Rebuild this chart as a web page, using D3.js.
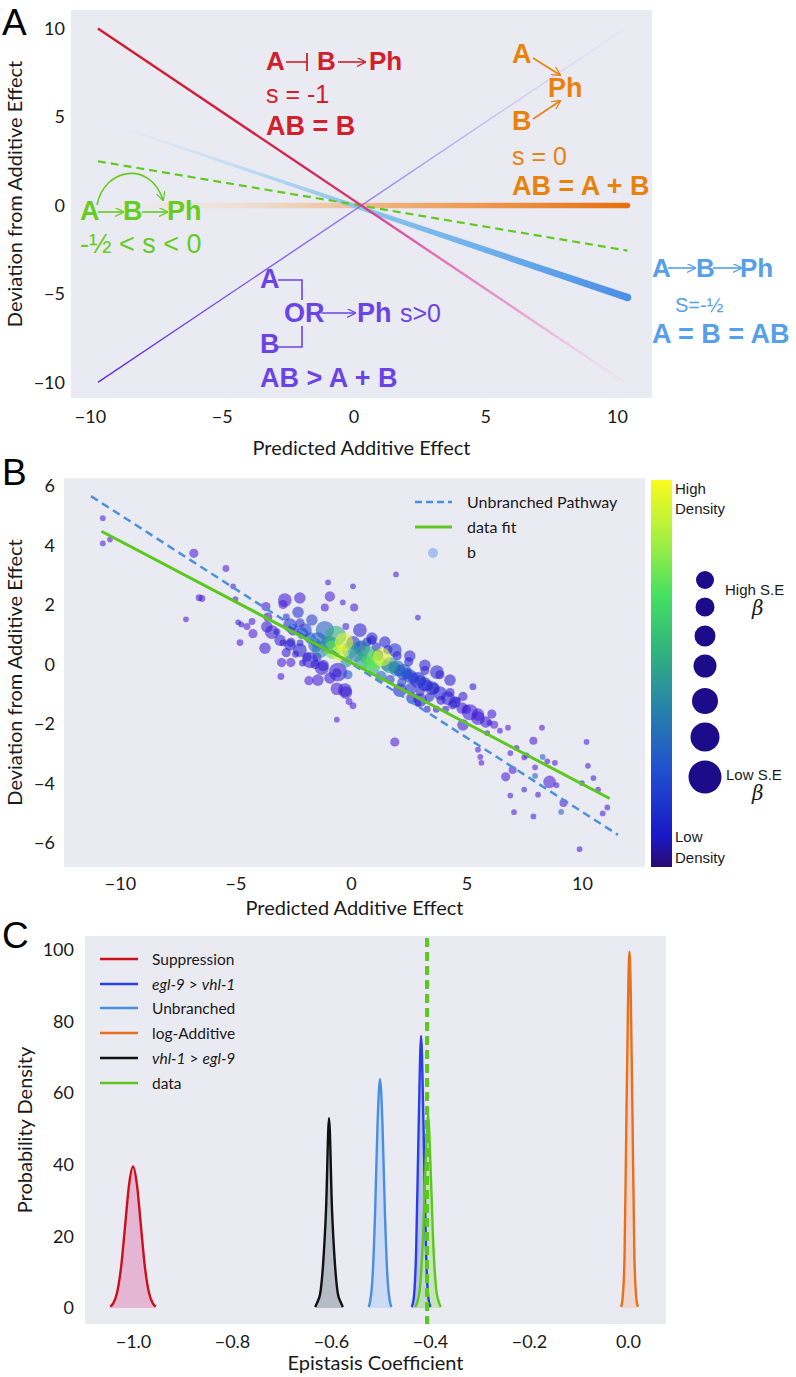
<!DOCTYPE html>
<html><head><meta charset="utf-8">
<script src="https://cdn.jsdelivr.net/npm/d3@7"></script>
<style>
body{margin:0;background:#fff}
svg{display:block}
</style>
</head><body>
<svg id="c" width="796" height="1377"></svg>
<script>
// ================= DATA =================
// Panel A
const aXTicks = [-10, -5, 0, 5, 10];
const aYTicks = [-10, -5, 0, 5, 10];
const suppX = [-9.7, 10.3], suppY = [10.0, -10.0];      // s = -1
const synX  = [-9.7, 10.3], synY  = [-10.0, 10.0];      // s > 0
const unbrX = [-9.7, 10.4], unbrY = [4.85, -5.2];       // s = -1/2
const addX  = [-9.7, 10.4], addY  = [0, 0];             // s = 0
const fitAX = [-9.7, 10.4], fitAY = [2.5, -2.55];       // -1/2 < s < 0

// Panel B
const bXTicks = [-10, -5, 0, 5, 10];
const bYTicks = [-6, -4, -2, 0, 2, 4, 6];
const unbrBX = [-11.25, 11.56], unbrBY = [5.66, -5.72];
const fitBX  = [-10.8, 11.2],   fitBY  = [4.48, -4.5];
// points: [predicted additive, deviation, S.E. size class (px radius), density 0..1]
const bPoints = [
 [-10.74,4.92,2.5,0],[-10.74,4.07,2.5,0],[-10.43,4.2,2.5,0],
 [-6.8,3.74,4,0],[-5.41,3.23,3,0],[-6.57,2.25,3,0],[-6.45,2.22,3,0],
 [-7.14,1.52,2.5,0],[-5.1,2.63,2.5,0],[-5.0,2.2,2.5,0],[-4.88,1.42,2.5,0.05],[-4.75,1.35,2.5,0.05],
 [-4.8,0.74,3,0],[-4.5,1.28,3,0],[-4.24,1.04,4,0],[-4.28,1.45,3,0],
 [-3.68,1.95,4,0],[-3.6,1.6,4,0],[-3.64,1.27,5,0.05],[-3.2,1.1,3,0.1],[-2.94,2.02,4,0],[-2.8,1.6,3,0.15],
 [-0.99,2.76,2.5,0],[-0.91,2.29,4.5,0],[-1.13,1.92,3.5,0],[0.09,2.63,2.5,0],[-0.35,2.09,2.5,0],
 [0.14,1.92,3.5,0],[-0.22,1.28,3,0],[1.95,3.03,2.5,0],[2.9,1.58,2.5,0],
 [-3.0,0.07,4,0],[-2.6,0.07,4,0],[-3.03,-0.4,3,0],[-1.82,-0.54,4,0],[-2.1,0.05,3,0.05],
 [-1.55,0.0,4,0.05],[-1.2,-0.03,5,0.05],[-0.61,-0.28,4,0.05],[-0.13,-0.34,4,0.25],
 [-0.61,-0.81,5.5,0],[-0.22,-0.94,5.5,0],[-0.08,-1.24,3,0],[0.09,-1.38,3,0],[-0.61,-1.85,2.5,0],[1.9,-2.6,4,0],
 [3.85,-0.34,4,0.1],[5.28,-0.74,3,0.1],[4.29,-0.94,4,0.05],[4.85,-1.07,4,0.05],[4.4,-1.35,4,0.05],
 [5.0,-1.5,4,0],[5.5,-1.68,5.5,0],[6.0,-1.95,2.5,0],[6.2,-2.02,3.5,0],[6.45,-2.22,2.5,0],[6.8,-2.12,2.5,0],
 [5.9,-2.3,2.5,0],[8.27,-2.12,2.5,0],[7.9,-2.56,3.5,0],[7.17,-2.8,2.5,0],[5.5,-2.86,2.5,0],[5.6,-3.1,2.5,0],
 [5.65,-3.3,2.5,0],[6.9,-2.97,2.5,0],[7.5,-3.12,2.5,0],[7.6,-3.05,2.5,0],[8.3,-3.1,2.5,0.3],[8.5,-3.25,2.5,0],
 [8.83,-3.3,2.5,0],[7.97,-3.45,2.5,0],[7.0,-3.54,3.5,0],[6.7,-3.77,4,0],[7.97,-3.74,2.5,0.3],[8.6,-3.94,5.5,0],
 [8.9,-4.05,2.5,0],[7.5,-4.2,2.5,0],[6.9,-4.4,2.5,0],[8.1,-4.37,2.5,0],[10.2,-2.6,2.5,0],[10.26,-3.4,2.5,0],
 [10.5,-3.81,2.5,0],[10.0,-3.98,2.5,0],[10.7,-4.2,2.5,0],[9.2,-4.65,3.5,0],[9.1,-4.95,2.5,0.3],
 [11.1,-4.8,2.5,0],[10.9,-5.0,2.5,0],[7.06,-4.96,2.5,0],[7.9,-5.1,2.5,0],[9.9,-6.2,2.5,0],
 [-2.5,1.17,5,0.1],[-2.1,1.05,5,0.2],[-2.2,1.4,4,0.15],[-2.94,0.73,3,0.05],[-2.6,0.75,4,0.1],[-2.8,0.4,4,0.05],
 [-2.2,0.73,3,0.15],[-1.77,0.9,5,0.3],[-1.55,0.65,6,0.3],[-1.33,0.5,7,0.4],[-1.0,0.73,6,0.45],
 [-0.78,0.5,8,0.75],[-0.48,0.4,7,0.95],[-0.2,0.1,5,0.45],[-1.47,0.25,4,0.1],[-1.9,0.25,4,0.1],[-2.4,0.35,3,0.05],
 [0.1,0.73,6,0.15],[0.4,0.6,5,0.15],[0.7,0.76,4,0.1],[0.9,0.82,4,0.1],[1.1,0.6,4,0.15],[1.15,0.32,5,0.2],
 [0.5,0.1,7,0.5],[0.8,0.05,6,0.7],[1.0,-0.1,5,0.55],[1.55,-0.03,5,0.35],[1.9,-0.1,5,0.25],[2.1,-0.2,5,0.2],
 [2.4,-0.3,5,0.2],[2.7,-0.45,5,0.15],[3.0,-0.55,5,0.15],[3.3,-0.7,5,0.12],[3.6,-0.8,5,0.1],[2.2,-0.6,4,0.2],
 [2.6,-0.8,5,0.15],[3.0,-0.9,4,0.1],[3.4,-1.1,4,0.1],[1.7,-0.5,4,0.2],[1.3,-0.4,5,0.3],[2.0,0.3,4,0.1],
 [2.5,0.1,4,0.1],[3.2,-0.2,4,0.1],[1.6,0.5,4,0.1],[3.9,-1.2,4,0.05],[4.1,-1.5,3,0.05],[3.7,-1.5,3,0.05],
 [4.6,-1.2,3,0.05],[2.9,-1.3,3,0.05],[3.3,-1.5,3,0.05],
 [-2.64,1.33,6,0.15],[-2.29,1.76,5,0.15],[-1.99,1.16,6,0.2],[-1.69,1.5,5,0.2],[-1.43,0.82,7,0.3],
 [-1.13,1.16,8,0.3],[-0.91,0.66,8,0.45],[-0.65,0.96,9,0.55],[-0.3,0.76,8,0.95],[-0.04,0.49,7,0.5],
 [0.22,0.32,6,0.4],[0.48,0.55,7,0.4],[0.74,0.32,8,0.55],[1.04,0.15,8,0.75],[1.34,0.25,8,0.95],
 [1.69,-0.02,7,0.5],[1.99,-0.12,7,0.35],[2.29,-0.25,7,0.25],[2.55,-0.39,6,0.2],[2.9,-0.52,7,0.15],
 [3.2,-0.66,6,0.15],[3.51,-0.79,6,0.12],[3.85,-0.96,6,0.1],[4.2,-1.13,6,0.1],[4.5,-1.26,5,0.08],
 [4.81,-1.46,5,0.05],[2.12,-0.86,6,0.1],[2.64,-1.13,5,0.1],[2.99,-1.19,6,0.1],[1.9,0.49,6,0.15],
 [2.55,0.29,5,0.1],[3.2,-0.02,5,0.1],[3.72,-0.25,6,0.1],[4.29,-0.52,5,0.08],[0.39,1.16,6,0.1],
 [0.91,0.89,5,0.1],[1.47,0.76,5,0.1],[-1.77,0.15,7,0.05],[-1.26,-0.12,6,0.05],[-0.91,-0.45,5,0.05],
 [-0.56,-0.25,8,0.05],[-0.26,-0.86,6,0.05],[-1.43,-0.52,5,0.03],[-2.21,0.49,6,0.08],[-2.64,0.66,5,0.08],
 [-3.07,0.82,5,0.05],[-3.42,1.09,6,0.03],[-2.86,2.17,6,0.03],[-2.21,2.24,5,0.03],[-3.72,0.55,5,0.03],
 [5.15,-1.6,7,0.03],[5.5,-1.8,6,0.03],[5.84,-1.93,5,0.03],[6.1,-1.66,4,0.03],[4.85,-2.03,5,0.03]
];

// Panel C
const cXTicks = [-1.0, -0.8, -0.6, -0.4, -0.2, 0.0];
const cYTicks = [0, 20, 40, 60, 80, 100];
const cNames = ["Suppression", "egl-9 > vhl-1", "Unbranched", "log-Additive", "vhl-1 > egl-9", "data"];
const suppCX = [-1.046,-1.04,-1.032,-1.024,-1.016,-1.008,-1.0,-0.992,-0.984,-0.976,-0.968,-0.96,-0.954];
const suppCY = [0.4,1.3,4.4,11.5,22.9,34.4,39.5,34.4,22.9,11.5,4.4,1.3,0.4];
const eglCX  = [-0.437,-0.433,-0.428,-0.423,-0.418,-0.413,-0.408,-0.403,-0.399];
const eglCY  = [0.3,2.5,16,50,76,50,16,2.5,0.3];
const unbrCX = [-0.524,-0.521,-0.516,-0.511,-0.506,-0.501,-0.496,-0.491,-0.486,-0.481,-0.478];
const unbrCY = [0.3,1.8,8.7,26.3,51.3,64,51.3,26.3,8.7,1.8,0.3];
const addCX  = [-0.014,-0.011,-0.007,-0.003,0.003,0.009,0.013,0.017,0.020];
const addCY  = [0.3,2.5,14,55,99.5,55,14,2.5,0.3];
const vhlCX  = [-0.632,-0.628,-0.622,-0.616,-0.610,-0.604,-0.598,-0.592,-0.586,-0.580,-0.576];
const vhlCY  = [0.3,1.5,3.9,12.2,27.6,53,27.6,12.2,3.9,1.5,0.3];
const dataCX = [-0.43,-0.426,-0.42,-0.414,-0.409,-0.404,-0.399,-0.394,-0.388,-0.382,-0.378];
const dataCY = [0.3,1.5,6,20,40,54,40,20,6,1.5,0.3];
const dataMean = -0.406;

// ================= DRAW =================
const svg = d3.select('#c');
const BG = '#eaeaf2';
const TF = "Lato, 'Open Sans', sans-serif";
const HF = "'Liberation Sans', Arial, Helvetica, sans-serif";
const defs = svg.append('defs');

function axes(g, x, y, xt, yt, fmt, bot, left, padX, padY) {
  const ax = g.append('g').attr('transform', `translate(0,${bot})`)
    .call(d3.axisBottom(x).tickValues(xt).tickSize(0).tickPadding(padX).tickFormat(fmt));
  const ay = g.append('g').attr('transform', `translate(${left},0)`)
    .call(d3.axisLeft(y).tickValues(yt).tickSize(0).tickPadding(padY).tickFormat(d3.format('d')));
  [ax, ay].forEach(a => {
    a.select('.domain').remove();
    a.selectAll('text').attr('font-family', TF).attr('font-size', 18).attr('fill', '#1a1a1a');
  });
}
function grad(id, x1, y1, x2, y2, stops) {
  const gr = defs.append('linearGradient').attr('id', id).attr('gradientUnits', 'userSpaceOnUse')
    .attr('x1', x1).attr('y1', y1).attr('x2', x2).attr('y2', y2);
  stops.forEach(s => gr.append('stop').attr('offset', s[0]).attr('stop-color', s[1]).attr('stop-opacity', s[2]));
}
function marker(id, color) {
  defs.append('marker').attr('id', id).attr('viewBox', '0 0 10 10').attr('refX', 9).attr('refY', 5)
    .attr('markerWidth', 9).attr('markerHeight', 9).attr('markerUnits', 'userSpaceOnUse').attr('orient', 'auto')
    .append('path').attr('d', 'M0,0 L10,5 L0,10').attr('fill', 'none').attr('stroke', color).attr('stroke-width', 1.4);
}
function label(t, x, y, txt, size, color, weight, fam) {
  return t.append('text').attr('x', x).attr('y', y).text(txt).attr('font-size', size)
    .attr('fill', color).attr('font-weight', weight || 'normal').attr('font-family', fam || HF);
}
function arrow(g, x1, y1, x2, y2, color, id) {
  g.append('line').attr('x1', x1).attr('y1', y1).attr('x2', x2).attr('y2', y2)
    .attr('stroke', color).attr('stroke-width', 1.6).attr('marker-end', `url(#${id})`);
}

// Panel letters
label(svg, 2, 35, 'A', 37, '#000');
label(svg, 2, 485, 'B', 37, '#000');
label(svg, 2, 948, 'C', 37, '#000');

// ---------- Panel A ----------
{
  const L = 71, R = 652, T = 10, B = 398;
  const x = d3.scaleLinear().domain([-10.72, 11.33]).range([L, R]);
  const y = d3.scaleLinear().domain([-10.88, 11.05]).range([B, T]);
  const g = svg.append('g');
  g.append('rect').attr('x', L).attr('y', T).attr('width', R - L).attr('height', B - T).attr('fill', BG);
  axes(g, x, y, aXTicks, aYTicks, d3.format('d'), B, L, 12, 6);
  g.append('text').attr('x', (L + R) / 2).attr('y', 455).attr('text-anchor', 'middle').attr('font-family', TF)
    .attr('font-size', 20).attr('fill', '#1a1a1a').text('Predicted Additive Effect');
  g.append('text').attr('transform', `translate(22,${(T + B) / 2 - 10}) rotate(-90)`).attr('text-anchor', 'middle')
    .attr('font-family', TF).attr('font-size', 20).attr('fill', '#1a1a1a').text('Deviation from Additive Effect');

  // orange additive (thick, fading in)
  grad('gAdd', x(addX[0]), y(addY[0]), x(addX[1]), y(addY[1]),
    [[0, '#f6dcc8', 0], [0.22, '#f4d4b8', 0.35], [0.55, '#eeae74', 0.95], [1, '#e8700c', 1]]);
  g.append('line').attr('x1', x(addX[0])).attr('y1', y(addY[0])).attr('x2', x(addX[1])).attr('y2', y(addY[1]))
    .attr('stroke', 'url(#gAdd)').attr('stroke-width', 5.5).attr('stroke-linecap', 'round');

  // blue unbranched (widening band)
  {
    const x0 = x(unbrX[0]), y0 = y(unbrY[0]), x1 = x(unbrX[1]), y1 = y(unbrY[1]);
    const dx = x1 - x0, dy = y1 - y0, len = Math.hypot(dx, dy), nx = -dy / len, ny = dx / len;
    const w0 = 1.5, w1 = 7.5;
    grad('gUnbr', x0, y0, x1, y1, [[0, '#d6e8f6', 0], [0.15, '#c4e0f4', 0.55], [0.45, '#92c8ee', 1], [0.75, '#6aaeea', 1], [1, '#4a8fe6', 1]]);
    g.append('path').attr('d', `M${x0 + nx * w0 / 2},${y0 + ny * w0 / 2}L${x1 + nx * w1 / 2},${y1 + ny * w1 / 2}L${x1 - nx * w1 / 2},${y1 - ny * w1 / 2}L${x0 - nx * w0 / 2},${y0 - ny * w0 / 2}Z`)
      .attr('fill', 'url(#gUnbr)');
    g.append('circle').attr('cx', x1).attr('cy', y1).attr('r', w1 / 2).attr('fill', '#4a8fe6');
  }
  // green dashed
  g.append('line').attr('x1', x(fitAX[0])).attr('y1', y(fitAY[0])).attr('x2', x(fitAX[1])).attr('y2', y(fitAY[1]))
    .attr('stroke', '#62c922').attr('stroke-width', 2.2).attr('stroke-dasharray', '8,5');
  // purple synthetic
  grad('gSyn', x(synX[0]), y(synY[0]), x(synX[1]), y(synY[1]),
    [[0, '#5a2ee0', 1], [0.5, '#8466ea', 0.85], [1, '#d0c4f2', 0.15]]);
  g.append('line').attr('x1', x(synX[0])).attr('y1', y(synY[0])).attr('x2', x(synX[1])).attr('y2', y(synY[1]))
    .attr('stroke', 'url(#gSyn)').attr('stroke-width', 1.4);
  // red suppression
  grad('gSupp', x(suppX[0]), y(suppY[0]), x(suppX[1]), y(suppY[1]),
    [[0, '#d41a28', 1], [0.4, '#d42450', 1], [0.55, '#d8449a', 0.95], [0.8, '#e274bc', 0.6], [1, '#f2b8dc', 0.1]]);
  g.append('line').attr('x1', x(suppX[0])).attr('y1', y(suppY[0])).attr('x2', x(suppX[1])).attr('y2', y(suppY[1]))
    .attr('stroke', 'url(#gSupp)').attr('stroke-width', 2.4);

  // annotations
  const red = '#d0202a', org = '#e8820c', grn = '#66cc22', pur = '#6a44e6', blu = '#55a0e8';
  marker('mRed', red); marker('mOrg', org); marker('mGrn', grn); marker('mPur', pur); marker('mBlu', blu);
  // red
  label(g, 266, 70, 'A', 26, red, 'bold');
  g.append('line').attr('x1', 286).attr('y1', 62).attr('x2', 307).attr('y2', 62).attr('stroke', red).attr('stroke-width', 1.6);
  g.append('line').attr('x1', 307).attr('y1', 53).attr('x2', 307).attr('y2', 71).attr('stroke', red).attr('stroke-width', 1.8);
  label(g, 317, 70, 'B', 26, red, 'bold');
  arrow(g, 338, 62, 365, 62, red, 'mRed');
  label(g, 369, 70, 'Ph', 26, red, 'bold');
  label(g, 266, 103, 's = -1', 25, red);
  label(g, 266, 135, 'AB = B', 27, red, 'bold');
  // orange
  label(g, 512, 63, 'A', 27, org, 'bold');
  arrow(g, 533, 58, 560, 75, org, 'mOrg');
  label(g, 548, 97, 'Ph', 27, org, 'bold');
  label(g, 512, 130, 'B', 27, org, 'bold');
  arrow(g, 533, 119, 560, 101, org, 'mOrg');
  label(g, 512, 165, 's = 0', 25, org);
  label(g, 512, 195, 'AB = A + B', 27, org, 'bold');
  // green
  label(g, 80, 220, 'A', 27, grn, 'bold');
  arrow(g, 98, 212, 123, 212, grn, 'mGrn');
  label(g, 123, 220, 'B', 27, grn, 'bold');
  arrow(g, 142, 212, 167, 212, grn, 'mGrn');
  label(g, 167, 220, 'Ph', 27, grn, 'bold');
  g.append('path').attr('d', 'M97,205 C104,168 150,160 163,200').attr('fill', 'none').attr('stroke', grn)
    .attr('stroke-width', 1.6).attr('marker-end', 'url(#mGrn)');
  label(g, 80, 253, '-½ < s < 0', 27, grn);
  // purple
  label(g, 260, 288, 'A', 27, pur, 'bold');
  g.append('path').attr('d', 'M278,280 H302 V300 M302,326 V347 H278').attr('fill', 'none').attr('stroke', pur).attr('stroke-width', 1.6);
  label(g, 284, 322, 'OR', 27, pur, 'bold');
  arrow(g, 322, 313, 355, 313, pur, 'mPur');
  label(g, 357, 322, 'Ph', 27, pur, 'bold');
  label(g, 400, 322, 's>0', 25, pur);
  label(g, 260, 353, 'B', 27, pur, 'bold');
  label(g, 260, 387, 'AB > A + B', 27, pur, 'bold');
  // blue
  label(g, 652, 277, 'A', 26, blu, 'bold');
  arrow(g, 668, 268, 695, 268, blu, 'mBlu');
  label(g, 696, 277, 'B', 26, blu, 'bold');
  arrow(g, 713, 268, 741, 268, blu, 'mBlu');
  label(g, 740, 277, 'Ph', 26, blu, 'bold');
  label(g, 675, 312, 'S=-½', 20, blu);
  label(g, 652, 343, 'A = B = AB', 27, blu, 'bold');
}

// ---------- Panel B ----------
const cmap = d3.scaleLinear()
  .domain([0, 0.08, 0.25, 0.45, 0.55, 0.7, 0.85, 1])
  .range(['#2a0a70', '#1a18c8', '#2050d0', '#2a8fa0', '#30b080', '#44e060', '#a8f040', '#fafa1e']);
const pmap = d3.scaleLinear()
  .domain([0, 0.08, 0.25, 0.45, 0.55, 0.7, 0.85, 1])
  .range(['#4a1cd6', '#2a1ad0', '#2050d0', '#2a8fa0', '#30b080', '#44e060', '#a8f040', '#fafa1e']);
{
  const L = 64, R = 645, T = 478, B = 867;
  const x = d3.scaleLinear().domain([-12.42, 12.73]).range([L, R]);
  const y = d3.scaleLinear().domain([-6.8, 6.27]).range([B, T]);
  const g = svg.append('g');
  g.append('rect').attr('x', L).attr('y', T).attr('width', R - L).attr('height', B - T).attr('fill', BG);
  axes(g, x, y, bXTicks, bYTicks, d3.format('d'), B, L, 10, 9);
  g.append('text').attr('x', (L + R) / 2).attr('y', 915).attr('text-anchor', 'middle').attr('font-family', TF)
    .attr('font-size', 20).attr('fill', '#1a1a1a').text('Predicted Additive Effect');
  g.append('text').attr('transform', `translate(22,${(T + B) / 2}) rotate(-90)`).attr('text-anchor', 'middle')
    .attr('font-family', TF).attr('font-size', 20).attr('fill', '#1a1a1a').text('Deviation from Additive Effect');

  const pts = bPoints.slice().sort((a, b) => a[3] - b[3]);
  g.append('g').selectAll('circle').data(pts).join('circle')
    .attr('cx', d => x(d[0])).attr('cy', d => y(d[1])).attr('r', d => d[2] * 1.15)
    .attr('fill', d => pmap(d[3])).attr('fill-opacity', 0.58);

  g.append('line').attr('x1', x(unbrBX[0])).attr('y1', y(unbrBY[0])).attr('x2', x(unbrBX[1])).attr('y2', y(unbrBY[1]))
    .attr('stroke', '#4a90dc').attr('stroke-width', 2.5).attr('stroke-dasharray', '8,5');
  g.append('line').attr('x1', x(fitBX[0])).attr('y1', y(fitBY[0])).attr('x2', x(fitBX[1])).attr('y2', y(fitBY[1]))
    .attr('stroke', '#5cc81e').attr('stroke-width', 3);

  // legend
  g.append('line').attr('x1', 415).attr('x2', 452).attr('y1', 502).attr('y2', 502).attr('stroke', '#4a90dc')
    .attr('stroke-width', 2.5).attr('stroke-dasharray', '7,4');
  g.append('line').attr('x1', 415).attr('x2', 452).attr('y1', 527).attr('y2', 527).attr('stroke', '#5cc81e').attr('stroke-width', 3);
  g.append('circle').attr('cx', 433).attr('cy', 553).attr('r', 5).attr('fill', '#a9bff0');
  label(g, 467, 508, 'Unbranched Pathway', 16, '#1a1a1a', 'normal', TF);
  label(g, 467, 533, 'data fit', 16, '#1a1a1a', 'normal', TF);
  label(g, 467, 558, 'b', 16, '#1a1a1a', 'normal', TF);

  // colorbar
  const cg = defs.append('linearGradient').attr('id', 'cbar').attr('x1', 0).attr('y1', 1).attr('x2', 0).attr('y2', 0);
  cmap.domain().forEach((d, i) => cg.append('stop').attr('offset', d).attr('stop-color', cmap.range()[i]));
  g.append('rect').attr('x', 651).attr('y', 480).attr('width', 21).attr('height', 387).attr('fill', 'url(#cbar)');
  label(g, 675, 494, 'High', 15, '#1a1a1a');
  label(g, 675, 514, 'Density', 15, '#1a1a1a');
  label(g, 675, 842, 'Low', 15, '#1a1a1a');
  label(g, 675, 863, 'Density', 15, '#1a1a1a');

  // S.E. size legend
  const legR = [9, 9.5, 10.5, 11.5, 13, 14.5, 16.5];
  const legY = [580, 607, 636, 666, 701, 737, 777];
  g.selectAll('.se').data(legR).join('circle').attr('cx', 705).attr('cy', (d, i) => legY[i]).attr('r', d => d).attr('fill', '#1c0c8a');
  label(g, 725, 595, 'High S.E', 15, '#1a1a1a');
  label(g, 752, 615, 'β', 20, '#1a1a1a', 'normal', "'DejaVu Serif', serif").attr('font-style', 'italic');
  label(g, 726, 780, 'Low S.E', 15, '#1a1a1a');
  label(g, 752, 800, 'β', 20, '#1a1a1a', 'normal', "'DejaVu Serif', serif").attr('font-style', 'italic');
}

// ---------- Panel C ----------
{
  const L = 85, R = 666, T = 936, B = 1324;
  const x = d3.scaleLinear().domain([-1.097, 0.0768]).range([L, R]);
  const y = d3.scaleLinear().domain([-4.47, 103.9]).range([B, T]);
  const g = svg.append('g');
  g.append('rect').attr('x', L).attr('y', T).attr('width', R - L).attr('height', B - T).attr('fill', BG);
  axes(g, x, y, cXTicks, cYTicks, d3.format('.1f'), B, L, 11, 11);
  g.append('text').attr('x', (L + R) / 2).attr('y', 1370).attr('text-anchor', 'middle').attr('font-family', TF)
    .attr('font-size', 20).attr('fill', '#1a1a1a').text('Epistasis Coefficient');
  g.append('text').attr('transform', `translate(32,${(T + B) / 2}) rotate(-90)`).attr('text-anchor', 'middle')
    .attr('font-family', TF).attr('font-size', 20).attr('fill', '#1a1a1a').text('Probability Density');

  const curves = [
    {xs: suppCX, ys: suppCY, line: '#cc0f1a', fill: '#e3a9cb'},
    {xs: vhlCX, ys: vhlCY, line: '#111111', fill: '#a7b0ba'},
    {xs: unbrCX, ys: unbrCY, line: '#4a8ee2', fill: '#c4d6f4'},
    {xs: eglCX, ys: eglCY, line: '#2a3ee6', fill: '#aab6ee'},
    {xs: dataCX, ys: dataCY, line: '#5cc81e', fill: '#bfe2b0'},
    {xs: addCX, ys: addCY, line: '#e8701c', fill: '#f0d2c6'}
  ];
  const area = d3.area().x(d => x(d[0])).y0(y(0)).y1(d => y(d[1])).curve(d3.curveMonotoneX);
  const line = d3.line().x(d => x(d[0])).y(d => y(d[1])).curve(d3.curveMonotoneX);
  curves.forEach(c => {
    const pts = c.xs.map((v, i) => [v, c.ys[i]]);
    g.append('path').attr('d', area(pts)).attr('fill', c.fill).attr('fill-opacity', 0.8);
  });
  curves.forEach(c => {
    const pts = c.xs.map((v, i) => [v, c.ys[i]]);
    g.append('path').attr('d', line(pts)).attr('fill', 'none').attr('stroke', c.line).attr('stroke-width', 2.4);
  });
  g.append('line').attr('x1', x(dataMean)).attr('x2', x(dataMean)).attr('y1', T + 2).attr('y2', B)
    .attr('stroke', '#5cc81e').attr('stroke-width', 4).attr('stroke-dasharray', '9,5');

  // legend
  const legColors = ['#cc0f1a', '#2a3ee6', '#4a8ee2', '#e8701c', '#111111', '#5cc81e'];
  const legY = [959, 984, 1008, 1033, 1058, 1083];
  cNames.forEach((n, i) => {
    g.append('line').attr('x1', 100).attr('x2', 138).attr('y1', legY[i]).attr('y2', legY[i])
      .attr('stroke', legColors[i]).attr('stroke-width', 2.5);
    const t = g.append('text').attr('x', 152).attr('y', legY[i] + 5.5).attr('font-family', TF).attr('font-size', 15.5).attr('fill', '#1a1a1a');
    const m = n.match(/^(\S+) > (\S+)$/);
    if (m) {
      t.append('tspan').attr('font-style', 'italic').text(m[1]);
      t.append('tspan').text(' > ');
      t.append('tspan').attr('font-style', 'italic').text(m[2]);
    } else t.text(n);
  });
}
</script>
</body></html>
